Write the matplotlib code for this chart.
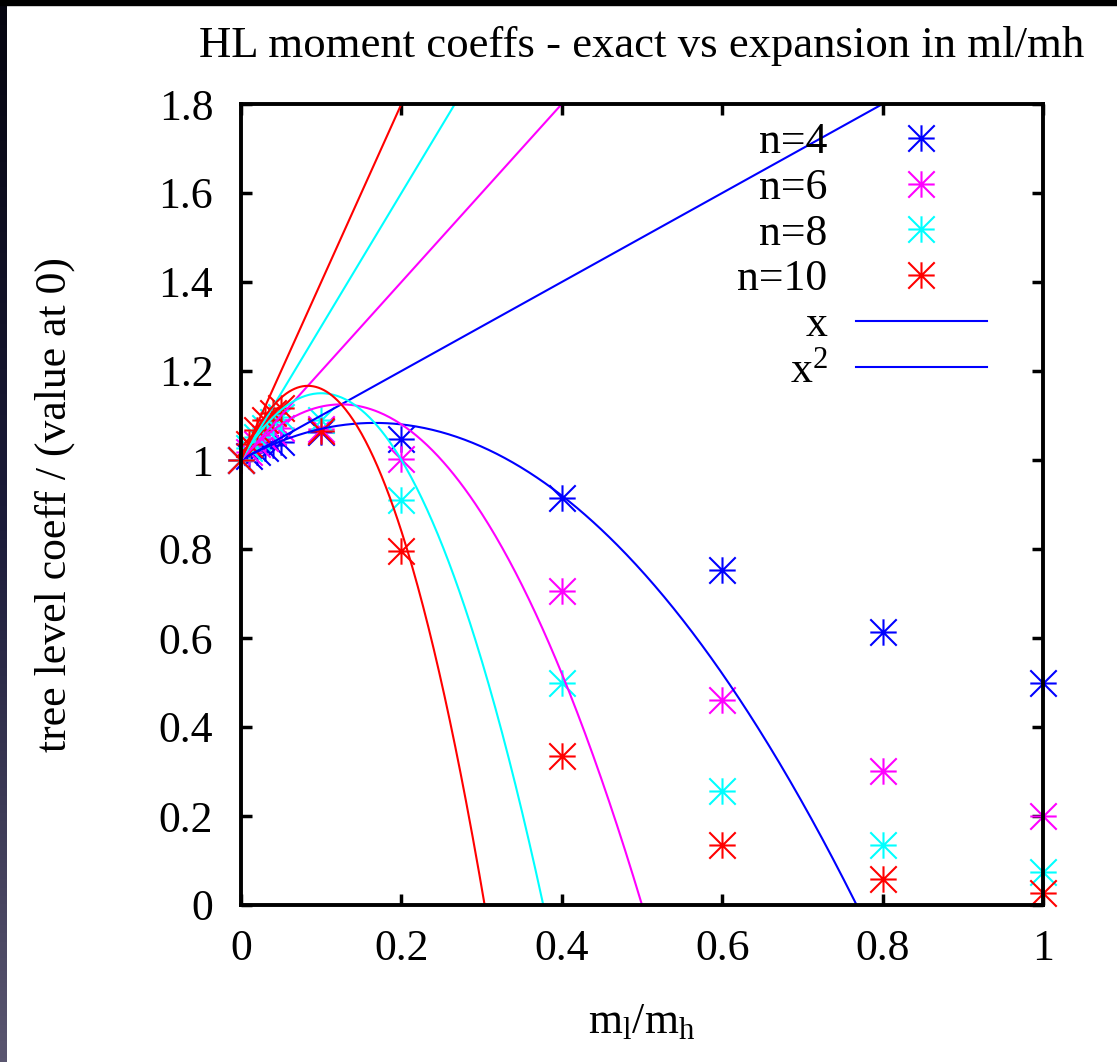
import numpy as np
import matplotlib
matplotlib.use('Agg')
from matplotlib import pyplot as plt
from matplotlib.path import Path
from matplotlib.patches import Rectangle
from matplotlib.colors import LinearSegmentedColormap

# ratio m_l/m_h where the exact coefficient was evaluated
x_pts = [0.0, 0.01, 0.02, 0.03, 0.04, 0.05, 0.1, 0.2, 0.4, 0.6, 0.8, 1.0]

# exact coefficient / value at 0, per moment n
exact_n4 = [1.0, 1.010, 1.019, 1.027, 1.034, 1.041, 1.062, 1.047, 0.915, 0.753, 0.613, 0.500]
exact_n6 = [1.0, 1.019, 1.036, 1.050, 1.062, 1.072, 1.070, 1.002, 0.705, 0.460, 0.302, 0.200]
exact_n8 = [1.0, 1.028, 1.052, 1.071, 1.086, 1.097, 1.090, 0.910, 0.500, 0.256, 0.134, 0.075]
exact_n10 = [1.0, 1.037, 1.067, 1.090, 1.106, 1.117, 1.065, 0.795, 0.335, 0.135, 0.058, 0.028]

labels = ['n=4', 'n=6', 'n=8', 'n=10']
colors = ['#0000ff', '#ff00ff', '#00ffff', '#ff0000']

# expansion coefficients: 1 + a*x (+ b*x^2)
lin_coeff = [1.0, 2.0, 3.0, 4.0]
quad_coeff = [-3.0, -8.0, -15.0, -24.0]

plt.rcParams['font.family'] = ['Liberation Serif', 'DejaVu Serif']
plt.rcParams['mathtext.fontset'] = 'custom'
plt.rcParams['mathtext.rm'] = 'Liberation Serif'
plt.rcParams['mathtext.it'] = 'Liberation Serif'
fs = 31.5

W, H = 1117, 1062
fig = plt.figure(figsize=(W / 100, H / 100), dpi=100)

# dark frame strips of the screenshot
strip = fig.add_axes([0, 0, 7 / W, 1])
grad = np.linspace(0, 1, 256).reshape(-1, 1)
strip.imshow(grad, aspect='auto',
             cmap=LinearSegmentedColormap.from_list('edge', ['#05050f', '#1c1c3a', '#5a5670']))
strip.axis('off')
fig.patches.append(Rectangle((0, 1 - 5 / H), 1, 5 / H, transform=fig.transFigure,
                             color='black', zorder=10))

ax = fig.add_axes([241 / W, 1 - 905 / H, (1043 - 241) / W, (905 - 104) / H])

star = Path([(-1, 0), (1, 0), (0, -1), (0, 1), (-1, -1), (1, 1), (-1, 1), (1, -1)],
            [Path.MOVETO, Path.LINETO] * 4)

for ys, lab, c in zip([exact_n4, exact_n6, exact_n8, exact_n10], labels, colors):
    ax.plot(x_pts, ys, linestyle='none', marker=star, markersize=19,
            markeredgewidth=1.5, color=c, label=lab, clip_on=False)

xx = np.linspace(0, 1, 600)
for i, (a, b, c) in enumerate(zip(lin_coeff, quad_coeff, colors)):
    ax.plot(xx, 1 + a * xx, color=c, lw=1.5, label='x' if i == 0 else None)
    ax.plot(xx, 1 + a * xx + b * xx ** 2, color=c, lw=1.5,
            label='x$^2$' if i == 0 else None)

h, l = ax.get_legend_handles_labels()
leg = ax.legend(h, l, loc='upper right', bbox_to_anchor=(0.93, 0.977),
                frameon=False, markerfirst=False, fontsize=fs, borderpad=0,
                labelspacing=0.13, handlelength=3.0, handletextpad=0.64,
                borderaxespad=0)

ax.set_xlim(0, 1)
ax.set_ylim(0, 1.8)
ax.set_xticks([0, 0.2, 0.4, 0.6, 0.8, 1.0])
ax.set_xticklabels(['0', '0.2', '0.4', '0.6', '0.8', '1'])
ax.set_yticks(np.arange(0, 1.81, 0.2))
ax.set_yticklabels(['0', '0.2', '0.4', '0.6', '0.8', '1', '1.2', '1.4', '1.6', '1.8'])
ax.tick_params(direction='in', length=8, width=2.5, top=True, right=True,
               labelsize=fs, pad=17)
ax.tick_params(axis='y', pad=20)
for s in ax.spines.values():
    s.set_linewidth(2.8)

ax.set_title('HL moment coeffs - exact vs expansion in ml/mh', fontsize=32.2, pad=34)
ax.set_xlabel(r'm$_\mathrm{l}$/m$_\mathrm{h}$', fontsize=fs, labelpad=24)
ax.set_ylabel('tree level coeff / (value at 0)', fontsize=fs, labelpad=60)

fig.savefig('out.png', dpi=100)
